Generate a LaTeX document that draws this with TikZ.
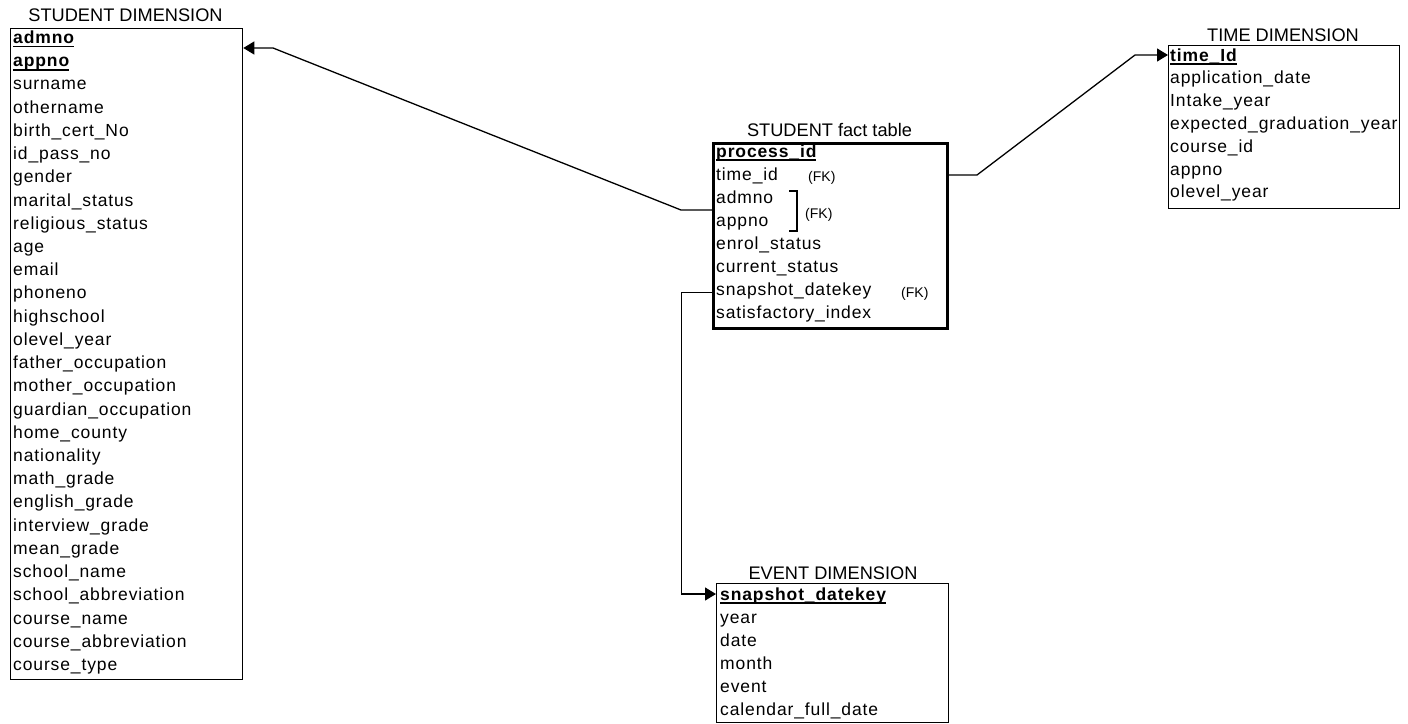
\documentclass[tikz,border=0pt]{standalone}
\usepackage{fontspec}
\setmainfont{Liberation Sans}
\newfontfamily\fieldfont[LetterSpace=5]{Liberation Sans}
\usetikzlibrary{arrows.meta}
\newcommand\keyul[1]{\setbox0\hbox{#1}\rlap{\rule[-3.8pt]{\wd0}{1.4pt}}\box0}
\begin{document}
\begin{tikzpicture}[x=1pt,y=-1pt,
  tbl/.style={draw, line width=1.3pt, anchor=north west, inner sep=0pt},
  facttbl/.style={tbl, line width=2.6pt},
  ttl/.style={font=\fontsize{18.2}{20}\selectfont, anchor=base, inner sep=0pt},
  fld/.style={font=\fieldfont\fontsize{17.5}{20}\selectfont, anchor=base west, inner sep=0pt},
  keyfld/.style={fld, font=\fieldfont\bfseries\fontsize{17.5}{20}\selectfont},
  fk/.style={font=\fontsize{14}{16}\selectfont, anchor=base west, inner sep=0pt},
  link/.style={draw, line width=1.3pt},
  tip/.style={-{Triangle[length=11pt,width=13pt]}}
]
\useasboundingbox (0,0) rectangle (1408,723);

% ---------- STUDENT DIMENSION ----------
\node[ttl] (stitle) at (125.5,21) {STUDENT DIMENSION};
\node[tbl, minimum width=232pt, minimum height=651pt] (student) at (10,28) {};
\node[keyfld] (s0) at (13,43.5) {\keyul{admno}};
\node[keyfld] (s1) at (13,66.7) {\keyul{appno}};
\foreach \t [count=\i from 2] in {surname, othername, birth\_cert\_No, id\_pass\_no, gender,
  marital\_status, religious\_status, age, email, phoneno, highschool, olevel\_year,
  father\_occupation, mother\_occupation, guardian\_occupation, home\_county, nationality,
  math\_grade, english\_grade, interview\_grade, mean\_grade, school\_name,
  school\_abbreviation, course\_name, course\_abbreviation, course\_type}
  \node[fld] (s\i) at (13,43.5+23.22*\i) {\t};

% ---------- STUDENT fact table ----------
\node[ttl] (ftitle) at (829.5,136) {STUDENT fact table};
\node[facttbl, minimum width=234pt, minimum height=185pt] (fact) at (712,142) {};
\node[keyfld] (f0) at (716,157) {\keyul{process\_id}};
\foreach \t [count=\i from 1] in {time\_id, admno, appno, enrol\_status, current\_status,
  snapshot\_datekey, satisfactory\_index}
  \node[fld] (f\i) at (716,157+23*\i) {\t};
\node[fk] (fk1) at (808,181) {(FK)};
\node[fk] (fk2) at (805,218) {(FK)};
\node[fk] (fk3) at (901,297) {(FK)};
\draw[line width=1.3pt] (789,191) -- (797,191) -- (797,231) -- (789,231);

% ---------- TIME DIMENSION ----------
\node[ttl] (ttitle) at (1283,41) {TIME DIMENSION};
\node[tbl, minimum width=231pt, minimum height=163pt] (time) at (1168,45) {};
\node[keyfld] (t0) at (1170,61) {\keyul{time\_Id}};
\foreach \t [count=\i from 1] in {application\_date, Intake\_year, expected\_graduation\_year,
  course\_id, appno, olevel\_year}
  \node[fld] (t\i) at (1170,61+22.8*\i) {\t};

% ---------- EVENT DIMENSION ----------
\node[ttl] (etitle) at (833,579) {EVENT DIMENSION};
\node[tbl, minimum width=232pt, minimum height=139pt] (event) at (716,583) {};
\node[keyfld] (e0) at (720,600) {\keyul{snapshot\_datekey}};
\foreach \t [count=\i from 1] in {year, date, month, event, calendar\_full\_date}
  \node[fld] (e\i) at (720,600+23*\i) {\t};

% ---------- connectors ----------
\coordinate (c1) at (681,210);
\coordinate (c2) at (273,48);
\coordinate (c3) at (977,175);
\coordinate (c4) at (1135,55);
\coordinate (c5) at (681.5,292.5);
\coordinate (c6) at (681.5,594);
\draw[link,tip] (c1 -| fact.west) -- (c1) -- (c2) -- (c2 -| student.east);
\draw[link,tip] (c3 -| fact.east) -- (c3) -- (c4) -- (c4 -| time.west);
\draw[link,tip] (c5 -| fact.west) -- (c5) -- (c6) -- (c6 -| event.west);
\end{tikzpicture}
\end{document}
